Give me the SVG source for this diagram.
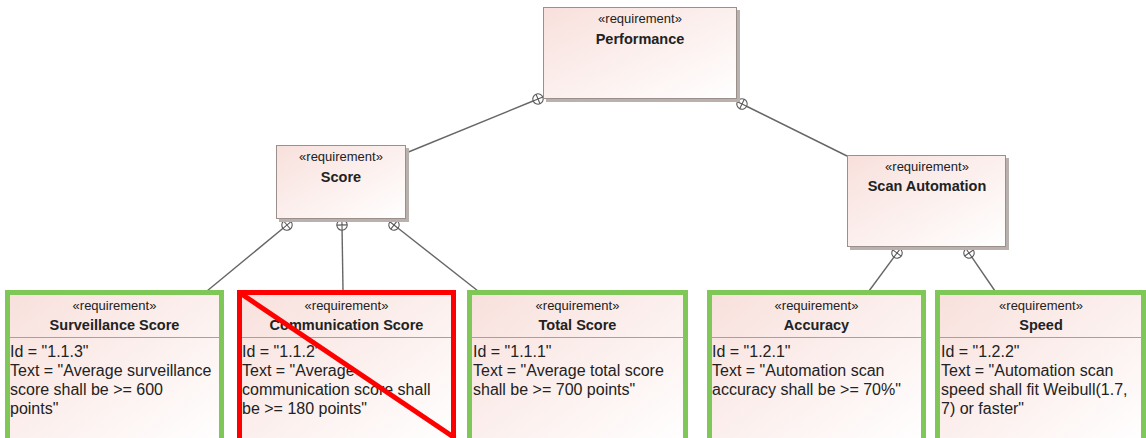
<svg xmlns="http://www.w3.org/2000/svg" width="1146" height="438" viewBox="0 0 1146 438">
  <style>
    .box { stroke: #9a8f8a; stroke-width: 1; fill: url(#reqFill); }
    .shadow { fill: #b9b1ad; }
    .stereo { font-family: "Liberation Sans", Arial, sans-serif; font-size: 13px; fill: #222; text-anchor: middle; }
    .title { font-family: "Liberation Sans", Arial, sans-serif; font-size: 14.5px; font-weight: bold; fill: #222; text-anchor: middle; }
    .body { font-family: "Liberation Sans", Arial, sans-serif; font-size: 16px; fill: #222; }
    .ok { fill: url(#reqFill); stroke: #7fc857; stroke-width: 5; }
    .bad { fill: url(#reqFill); stroke: #ff0000; stroke-width: 5; }
    .sep { stroke: #a8a09c; stroke-width: 1; }
    .link { stroke: #666; stroke-width: 1.4; fill: none; marker-start: url(#contain); }
  </style>
  <defs>
    <linearGradient id="reqFill" x1="0" y1="0" x2="1" y2="1">
      <stop offset="0" stop-color="#f8e0dc"/>
      <stop offset="1" stop-color="#ffffff"/>
    </linearGradient>
    <!-- containment end: circle with a cross, turned along the line -->
    <marker id="contain" markerUnits="userSpaceOnUse" markerWidth="14" markerHeight="14" refX="7" refY="7" orient="auto" viewBox="0 0 14 14">
      <circle cx="7" cy="7" r="5.2" fill="#ffffff" stroke="#5a5a5a" stroke-width="1.1"/>
      <path d="M1.8 7 H12.2 M7 1.8 V12.2" stroke="#5a5a5a" stroke-width="1.1"/>
    </marker>
  </defs>

  <!-- containment connectors -->
  <g id="connectors">
    <path class="link" d="M538 99 L406 153"/>
    <path class="link" d="M742 104 L847 156"/>
    <path class="link" d="M287 225 L207 291"/>
    <path class="link" d="M342 225 L343 290"/>
    <path class="link" d="M394 225 L478 291"/>
    <path class="link" d="M897 253 L869 291"/>
    <path class="link" d="M969 253 L995 291"/>
  </g>

  <g id="performance">
    <rect class="shadow" x="546" y="10" width="194" height="92"/>
    <rect class="box" x="543.5" y="7.5" width="193" height="91"/>
    <text class="stereo" x="640" y="23">«requirement»</text>
    <text class="title" x="640" y="44">Performance</text>
  </g>

  <g id="score">
    <rect class="shadow" x="279" y="148" width="130" height="74"/>
    <rect class="box" x="276.5" y="145.5" width="129" height="73"/>
    <text class="stereo" x="341" y="161">«requirement»</text>
    <text class="title" x="341" y="182">Score</text>
  </g>

  <g id="scan-automation">
    <rect class="shadow" x="850" y="158" width="159" height="92"/>
    <rect class="box" x="847.5" y="155.5" width="158" height="91"/>
    <text class="stereo" x="927" y="171">«requirement»</text>
    <text class="title" x="927" y="191">Scan Automation</text>
  </g>

  <g id="surveillance-score">
    <rect class="ok" x="7.5" y="292.5" width="214" height="152"/>
    <line class="sep" x1="10" y1="337.5" x2="219" y2="337.5"/>
    <text class="stereo" x="114.5" y="310">«requirement»</text>
    <text class="title" x="114.5" y="330">Surveillance Score</text>
    <text class="body" x="10" y="357">Id = "1.1.3"</text>
    <text class="body" x="10" y="376">Text = "Average surveillance</text>
    <text class="body" x="10" y="395">score shall be &gt;= 600</text>
    <text class="body" x="10" y="414">points"</text>
  </g>

  <g id="communication-score">
    <rect class="bad" x="239.5" y="292.5" width="214" height="152"/>
    <line class="sep" x1="242" y1="337.5" x2="451" y2="337.5"/>
    <text class="stereo" x="346.5" y="310">«requirement»</text>
    <text class="title" x="346.5" y="330">Communication Score</text>
    <text class="body" x="242" y="357">Id = "1.1.2"</text>
    <text class="body" x="242" y="376">Text = "Average</text>
    <text class="body" x="242" y="395">communication score shall</text>
    <text class="body" x="242" y="414">be &gt;= 180 points"</text>
    <line x1="240" y1="293" x2="455" y2="438" stroke="#ff0000" stroke-width="5"/>
  </g>

  <g id="total-score">
    <rect class="ok" x="469.5" y="292.5" width="216" height="152"/>
    <line class="sep" x1="472" y1="337.5" x2="683" y2="337.5"/>
    <text class="stereo" x="577.5" y="310">«requirement»</text>
    <text class="title" x="577.5" y="330">Total Score</text>
    <text class="body" x="473" y="357">Id = "1.1.1"</text>
    <text class="body" x="473" y="376">Text = "Average total score</text>
    <text class="body" x="473" y="395">shall be &gt;= 700 points"</text>
  </g>

  <g id="accuracy">
    <rect class="ok" x="709.5" y="292.5" width="214" height="152"/>
    <line class="sep" x1="712" y1="337.5" x2="921" y2="337.5"/>
    <text class="stereo" x="816.5" y="310">«requirement»</text>
    <text class="title" x="816.5" y="330">Accuracy</text>
    <text class="body" x="712" y="357">Id = "1.2.1"</text>
    <text class="body" x="712" y="376">Text = "Automation scan</text>
    <text class="body" x="712" y="395">accuracy shall be &gt;= 70%"</text>
  </g>

  <g id="speed">
    <rect class="ok" x="937.5" y="292.5" width="206" height="152"/>
    <line class="sep" x1="940" y1="337.5" x2="1141" y2="337.5"/>
    <text class="stereo" x="1041" y="310">«requirement»</text>
    <text class="title" x="1041" y="330">Speed</text>
    <text class="body" x="941" y="357">Id = "1.2.2"</text>
    <text class="body" x="941" y="376">Text = "Automation scan</text>
    <text class="body" x="941" y="395">speed shall fit Weibull(1.7,</text>
    <text class="body" x="941" y="414">7) or faster"</text>
  </g>
</svg>
